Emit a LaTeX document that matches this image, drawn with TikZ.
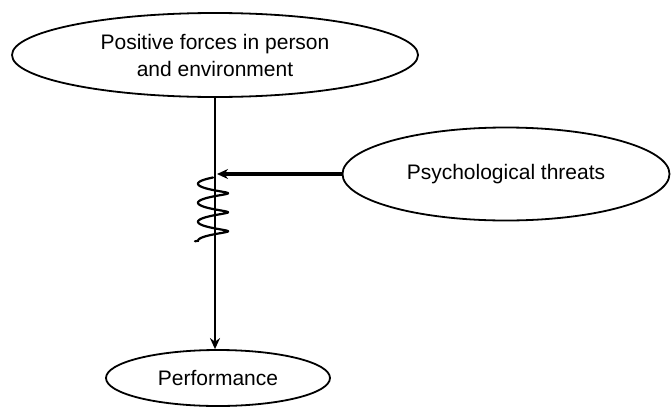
\documentclass[tikz,border=0pt]{standalone}
\usepackage{fontspec}
\setmainfont{Liberation Sans}
\usetikzlibrary{shapes.geometric,arrows.meta}
\begin{document}
\begin{tikzpicture}[x=1pt,y=-1pt,
  oval/.style={draw,line width=1.8pt,ellipse,inner sep=0pt,font=\fontsize{21}{27}\selectfont,align=center},
  conn/.style={line width=2.6pt,-{Stealth[length=11pt,width=10pt]}}]
\useasboundingbox (0,0) rectangle (671,407);
\node[oval,minimum width=406pt,minimum height=84pt] (pos) at (215,55) {Positive forces in person\\and environment};
\node[oval,minimum width=327pt,minimum height=93pt] (thr) at (506,174) {Psychological threats};
\node[oval,minimum width=224pt,minimum height=56pt] (perf) at (218,378) {Performance};
\coordinate (j) at (217,174);
\draw[conn] (pos.south) -- (perf.north -| pos.south);
\draw[conn,line width=3.2pt] (thr.west |- j) -- (j);
\draw[line width=2.2pt,line cap=round] plot[domain=0:1170,samples=200,smooth] ({213-15*sin(\x)},{179+0.0528*\x-1.5*cos(\x)}) -- ++(-3,0.5);
\end{tikzpicture}
\end{document}
